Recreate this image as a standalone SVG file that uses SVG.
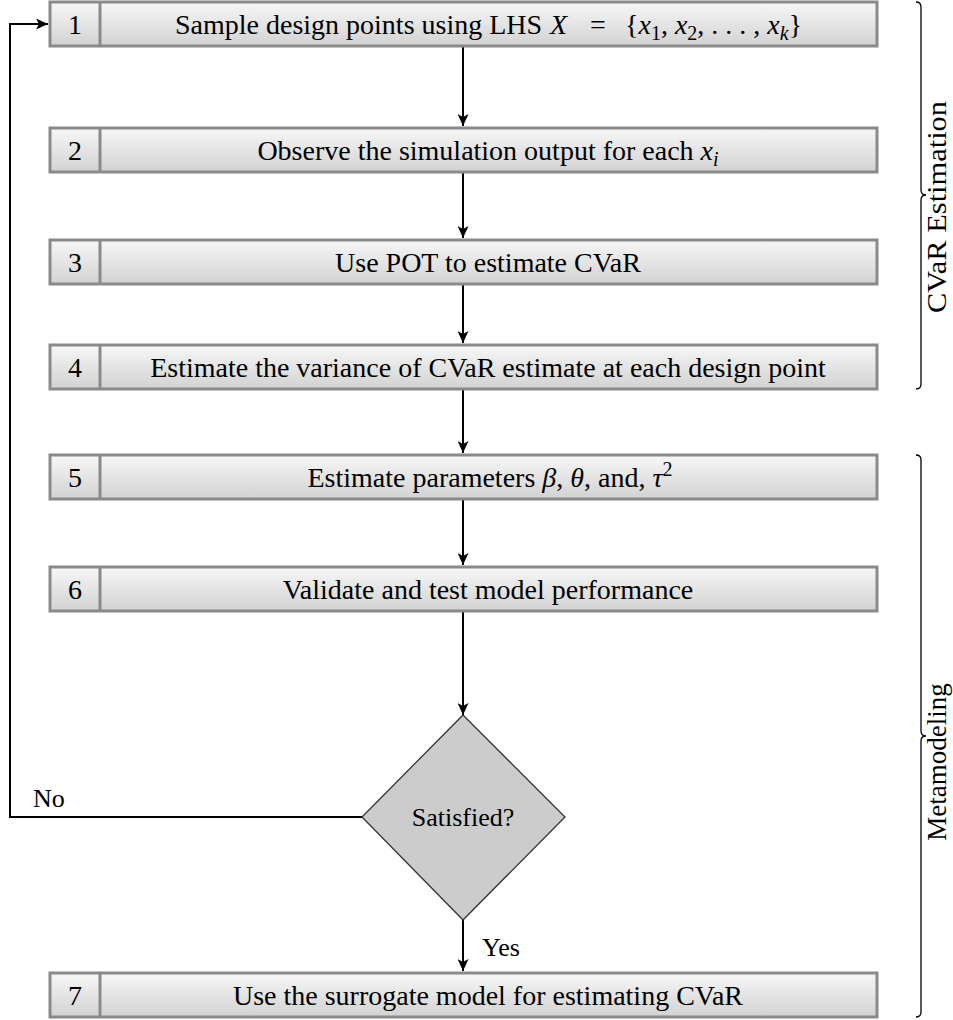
<svg xmlns="http://www.w3.org/2000/svg" width="953" height="1020" viewBox="0 0 953 1020">
<defs>
<linearGradient id="g" x1="0" y1="0" x2="0" y2="1">
<stop offset="0" stop-color="#f7f7f7"/>
<stop offset="1" stop-color="#d2d2d2"/>
</linearGradient>
<marker id="ah" markerWidth="13" markerHeight="11" refX="12" refY="5.5" orient="auto" markerUnits="userSpaceOnUse">
<path d="M0,0 L12,5.5 L0,11 L3,5.5 Z" fill="#000"/>
</marker>
</defs>
<style>
text{font-family:"Liberation Serif","Times New Roman",serif;font-size:28px;fill:#000}
.box{fill:url(#g);stroke:#8a8a8a;stroke-width:3}
.div{stroke:#8a8a8a;stroke-width:3}
.c{fill:none;stroke:#000;stroke-width:2}
.arr{marker-end:url(#ah)}
.br{fill:none;stroke:#000;stroke-width:1.3}
.m{text-anchor:middle}
.i{font-style:italic}
.s{font-size:20px}
.sm{font-size:26px}
.lb{font-size:27px}
</style>
<g id="connectors">
<path class="c arr" d="M463,46 V126"/>
<path class="c arr" d="M463,172 V238"/>
<path class="c arr" d="M463,284 V343"/>
<path class="c arr" d="M463,389 V453"/>
<path class="c arr" d="M463,499 V565"/>
<path class="c arr" d="M463,611 V715"/>
<path class="c arr" d="M463,920 V971"/>
<path class="c arr" d="M362,817 H10 V24 H48"/>
<text class="sm" x="33" y="807">No</text>
<text class="sm" x="482" y="956">Yes</text>
</g>
<g id="n1">
<rect class="box" x="50" y="2" width="827" height="44"/>
<line class="div" x1="100" y1="2" x2="100" y2="46"/>
<text class="m" x="75" y="34">1</text>
<text x="175" y="34">Sample design points using LHS<tspan class="i" x="550">X</tspan><tspan x="590">=</tspan><tspan x="625">{</tspan><tspan class="i">x</tspan><tspan class="s" dy="6">1</tspan><tspan dy="-6">, </tspan><tspan class="i">x</tspan><tspan class="s" dy="6">2</tspan><tspan dy="-6">, . . . , </tspan><tspan class="i">x</tspan><tspan class="s i" dy="6">k</tspan><tspan dy="-6">}</tspan></text>
</g>
<g id="n2">
<rect class="box" x="50" y="128" width="827" height="44"/>
<line class="div" x1="100" y1="128" x2="100" y2="172"/>
<text class="m" x="75" y="160">2</text>
<text class="m" x="488" y="160">Observe the simulation output for each <tspan class="i">x</tspan><tspan class="s i" dy="6">i</tspan></text>
</g>
<g id="n3">
<rect class="box" x="50" y="240" width="827" height="44"/>
<line class="div" x1="100" y1="240" x2="100" y2="284"/>
<text class="m" x="75" y="272">3</text>
<text class="m" x="488" y="272">Use POT to estimate CVaR</text>
</g>
<g id="n4">
<rect class="box" x="50" y="345" width="827" height="44"/>
<line class="div" x1="100" y1="345" x2="100" y2="389"/>
<text class="m" x="75" y="377">4</text>
<text class="m" x="488" y="377">Estimate the variance of CVaR estimate at each design point</text>
</g>
<g id="n5">
<rect class="box" x="50" y="455" width="827" height="44"/>
<line class="div" x1="100" y1="455" x2="100" y2="499"/>
<text class="m" x="75" y="487">5</text>
<text class="m" x="490" y="487">Estimate parameters <tspan class="i">β</tspan>, <tspan class="i">θ</tspan>, and, <tspan class="i">τ</tspan><tspan class="s" dy="-11">2</tspan></text>
</g>
<g id="n6">
<rect class="box" x="50" y="567" width="827" height="44"/>
<line class="div" x1="100" y1="567" x2="100" y2="611"/>
<text class="m" x="75" y="599">6</text>
<text class="m" x="488" y="599">Validate and test model performance</text>
</g>
<g id="decision">
<polygon points="463,715 565,817 463,920 362,817" fill="#cccccc" stroke="#333" stroke-width="1.3"/>
<text class="m sm" x="463" y="826">Satisfied?</text>
</g>
<g id="n7">
<rect class="box" x="50" y="973" width="827" height="44"/>
<line class="div" x1="100" y1="973" x2="100" y2="1017"/>
<text class="m" x="75" y="1005">7</text>
<text class="m" x="488" y="1005">Use the surrogate model for estimating CVaR</text>
</g>
<g id="brace1">
<path class="br" d="M916,2 Q921,2 921,7 V190 Q921,195 926,195 Q921,195 921,200 V384 Q921,389 916,389"/>
<text class="m lb" transform="translate(946,207) rotate(-90)" textLength="212" lengthAdjust="spacingAndGlyphs">CVaR Estimation</text>
</g>
<g id="brace2">
<path class="br" d="M916,455 Q921,455 921,460 V731 Q921,736 926,736 Q921,736 921,741 V1012 Q921,1017 916,1017"/>
<text class="m lb" transform="translate(946,762) rotate(-90)">Metamodeling</text>
</g>
</svg>
